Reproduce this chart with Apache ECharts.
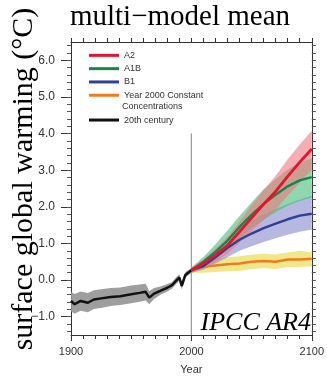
<!DOCTYPE html>
<html>
<head>
<meta charset="utf-8">
<script src="https://cdn.jsdelivr.net/npm/echarts@6/dist/echarts.min.js"></script>
<style>
  html, body { margin: 0; padding: 0; background: #fff; }
  #main { width: 327px; height: 380px; }
</style>
</head>
<body>
<div id="main"></div>
<script>
// 20th century observations-driven runs
const histYears = [1900, 1903, 1908, 1914, 1919, 1925, 1933, 1941, 1950, 1957, 1962, 1965, 1969, 1975, 1980, 1984, 1987, 1990, 1992, 1995, 2000];
const histMean = [-0.57, -0.66, -0.57, -0.62, -0.53, -0.50, -0.46, -0.44, -0.39, -0.35, -0.32, -0.48, -0.37, -0.28, -0.21, -0.14, -0.03, 0.07, -0.16, 0.14, 0.27];
const histLow = [-0.85, -0.92, -0.84, -0.88, -0.79, -0.76, -0.71, -0.68, -0.63, -0.59, -0.56, -0.66, -0.52, -0.39, -0.31, -0.23, -0.12, -0.02, -0.26, 0.06, 0.20];
const histHigh = [-0.32, -0.38, -0.31, -0.35, -0.28, -0.25, -0.22, -0.20, -0.15, -0.12, -0.10, -0.30, -0.22, -0.17, -0.11, -0.05, 0.06, 0.16, -0.06, 0.22, 0.32];

// scenario projections
const scenYears = [2000, 2010, 2020, 2030, 2040, 2050, 2060, 2070, 2080, 2090, 2100];
const a2Mean = [0.27, 0.45, 0.68, 0.95, 1.32, 1.70, 2.07, 2.42, 2.83, 3.22, 3.58];
const a2Low = [0.20, 0.33, 0.50, 0.72, 1.02, 1.33, 1.63, 1.93, 2.30, 2.65, 3.02];
const a2High = [0.34, 0.57, 0.86, 1.18, 1.60, 2.05, 2.45, 2.85, 3.30, 3.70, 4.08];
const a1bMean = [0.27, 0.50, 0.77, 1.08, 1.45, 1.78, 2.08, 2.33, 2.56, 2.72, 2.81];
const a1bLow = [0.20, 0.38, 0.58, 0.82, 1.12, 1.42, 1.65, 1.86, 2.03, 2.16, 2.25];
const a1bHigh = [0.34, 0.63, 0.98, 1.35, 1.75, 2.12, 2.48, 2.76, 3.02, 3.20, 3.33];
const b1Mean = [0.27, 0.38, 0.62, 0.88, 1.10, 1.27, 1.42, 1.54, 1.66, 1.76, 1.81];
const b1Low = [0.20, 0.28, 0.45, 0.62, 0.80, 0.92, 1.04, 1.14, 1.24, 1.32, 1.38];
const b1High = [0.34, 0.50, 0.80, 1.08, 1.42, 1.62, 1.80, 1.94, 2.08, 2.20, 2.30];
const constMean = [0.27, 0.36, 0.40, 0.43, 0.45, 0.50, 0.52, 0.50, 0.56, 0.56, 0.58];
const constLow = [0.20, 0.20, 0.22, 0.24, 0.25, 0.30, 0.32, 0.30, 0.36, 0.36, 0.38];
const constHigh = [0.34, 0.52, 0.58, 0.62, 0.65, 0.70, 0.72, 0.70, 0.75, 0.80, 0.76];

const yLabelValues = [-1, 0, 1, 2, 3, 4, 5, 6];
const xLabelValues = [1900, 2000, 2100];
const divider = [[2000, -1.5], [2000, 4.0]];

let minorY = [];
for (let v = -14; v <= 64; v += 2) {
  minorY.push(v / 10);
}

function pairs(xs, ys) {
  return xs.map((x, i) => [x, ys[i]]);
}

// shaded range drawn as one polygon through the axis scales
function band(key, xs, lo, hi, color, opacity) {
  return {
    name: key + ' range', type: 'custom', silent: true,
    data: xs.map((x, i) => [x, lo[i], hi[i]]),
    encode: { x: 0, y: [1, 2] },
    renderItem: function (params, api) {
      if (params.dataIndex !== 0) {
        return null;
      }
      let pts = [];
      for (let i = 0; i < xs.length; i++) {
        pts.push(api.coord([xs[i], hi[i]]));
      }
      for (let i = xs.length - 1; i >= 0; i--) {
        pts.push(api.coord([xs[i], lo[i]]));
      }
      return {
        type: 'polygon',
        shape: { points: pts },
        style: { fill: color, opacity: opacity }
      };
    }
  };
}

function line(name, xs, ys, color, width) {
  return {
    name: name, type: 'line', data: pairs(xs, ys), symbol: 'none',
    color: color, lineStyle: { color: color, width: width }
  };
}

const axisColor = '#333';
const sans = 'Liberation Sans';
const serif = 'Liberation Serif';

let chart = echarts.init(document.getElementById('main'), null, { renderer: 'canvas' });

let options = {
  animation: false,
  grid: { left: 71, top: 42, width: 241, height: 294 },
  legend: [
    {
      data: ['A2', 'A1B', 'B1', 'Year 2000 Constant'],
      orient: 'vertical', left: 84, top: 43.7, itemGap: 0,
      icon: 'rect', itemWidth: 30, itemHeight: 3,
      textStyle: { fontFamily: sans, fontSize: 9, color: '#333', lineHeight: 13.3 },
      selectedMode: false
    },
    {
      data: ['20th century'],
      orient: 'vertical', left: 84, top: 108.4, itemGap: 0,
      icon: 'rect', itemWidth: 30, itemHeight: 3,
      textStyle: { fontFamily: sans, fontSize: 9, color: '#333', lineHeight: 13.3 },
      selectedMode: false
    }
  ],
  xAxis: [
    {
      type: 'value', min: 1900, max: 2100, interval: 100, position: 'bottom',
      axisLine: { show: true, onZero: false, lineStyle: { color: axisColor, width: 1 } },
      axisTick: { show: true, length: 6, lineStyle: { color: axisColor } },
      minorTick: { show: true, splitNumber: 10, length: 4, lineStyle: { color: axisColor } },
      splitLine: { show: false },
      axisLabel: {
        customValues: xLabelValues, margin: 11,
        fontFamily: sans, fontSize: 11, color: '#333',
        formatter: (v) => String(v)
      },
      name: 'Year', nameLocation: 'middle', nameGap: 29,
      nameTextStyle: { fontFamily: sans, fontSize: 11, color: '#333' }
    },
    {
      type: 'value', min: 1900, max: 2100, interval: 10, position: 'top',
      axisLine: { show: true, onZero: false, lineStyle: { color: axisColor, width: 1 } },
      axisTick: { show: true, length: 4, lineStyle: { color: axisColor } },
      axisLabel: { show: false },
      splitLine: { show: false }
    }
  ],
  yAxis: [
    {
      type: 'value', min: -1.5, max: 6.5, position: 'left',
      axisLine: { show: true, onZero: false, lineStyle: { color: axisColor, width: 1 } },
      axisTick: { show: true, customValues: yLabelValues, length: 10, lineStyle: { color: axisColor } },
      splitLine: { show: false },
      axisLabel: {
        customValues: yLabelValues, margin: 16,
        fontFamily: sans, fontSize: 12, color: '#333',
        formatter: (v) => v.toFixed(1).replace('-', '\u2212')
      }
    },
    {
      type: 'value', min: -1.5, max: 6.5, position: 'left', offset: 0,
      axisLine: { show: false, onZero: false },
      axisTick: { show: true, customValues: minorY, length: 4, lineStyle: { color: '#555' } },
      axisLabel: { show: false },
      splitLine: { show: false }
    },
    {
      type: 'value', min: -1.5, max: 6.5, position: 'right',
      axisLine: { show: true, onZero: false, lineStyle: { color: axisColor, width: 1 } },
      axisTick: { show: true, customValues: minorY, length: 4, lineStyle: { color: '#555' } },
      axisLabel: { show: false },
      splitLine: { show: false }
    }
  ],
  graphic: [
    {
      type: 'text', x: 180, y: 17,
      style: {
        text: 'multi\u2212model mean', fontFamily: serif, fontSize: 29,
        fill: '#000', align: 'center', verticalAlign: 'middle'
      }
    },
    {
      type: 'text', x: 24, y: 179, rotation: Math.PI / 2,
      style: {
        text: 'surface global warming (\u00b0C)', fontFamily: serif, fontSize: 30,
        fill: '#000', align: 'center', verticalAlign: 'middle'
      }
    },
    {
      type: 'text', x: 311, y: 323,
      style: {
        text: 'IPCC AR4', fontFamily: serif, fontStyle: 'italic', fontSize: 26,
        fill: '#000', align: 'right', verticalAlign: 'middle'
      }
    },
    {
      type: 'text', x: 122, y: 106.7,
      style: {
        text: 'Concentrations', fontFamily: sans, fontSize: 9,
        fill: '#333', align: 'left', verticalAlign: 'middle'
      }
    }
  ],
  series: [
    {
      name: 'divider', type: 'line', data: divider, symbol: 'none', silent: true,
      lineStyle: { color: '#9a9a9a', width: 1.2 }
    },
    band('hist', histYears, histLow, histHigh, '#949494', 0.9),
    band('const', scenYears, constLow, constHigh, '#e8dc48', 0.65),
    band('b1', scenYears, b1Low, b1High, '#8a8ccc', 0.62),
    band('a1b', scenYears, a1bLow, a1bHigh, '#45bd78', 0.6),
    band('a2', scenYears, a2Low, a2High, '#f0787f', 0.6),
    line('20th century', histYears, histMean, '#111111', 2.5),
    line('Year 2000 Constant', scenYears, constMean, '#f07a22', 2.5),
    line('B1', scenYears, b1Mean, '#2f3f95', 2.4),
    line('A1B', scenYears, a1bMean, '#13874b', 2.4),
    line('A2', scenYears, a2Mean, '#e8122e', 2.8)
  ]
};

chart.setOption(options);
</script>
</body>
</html>
